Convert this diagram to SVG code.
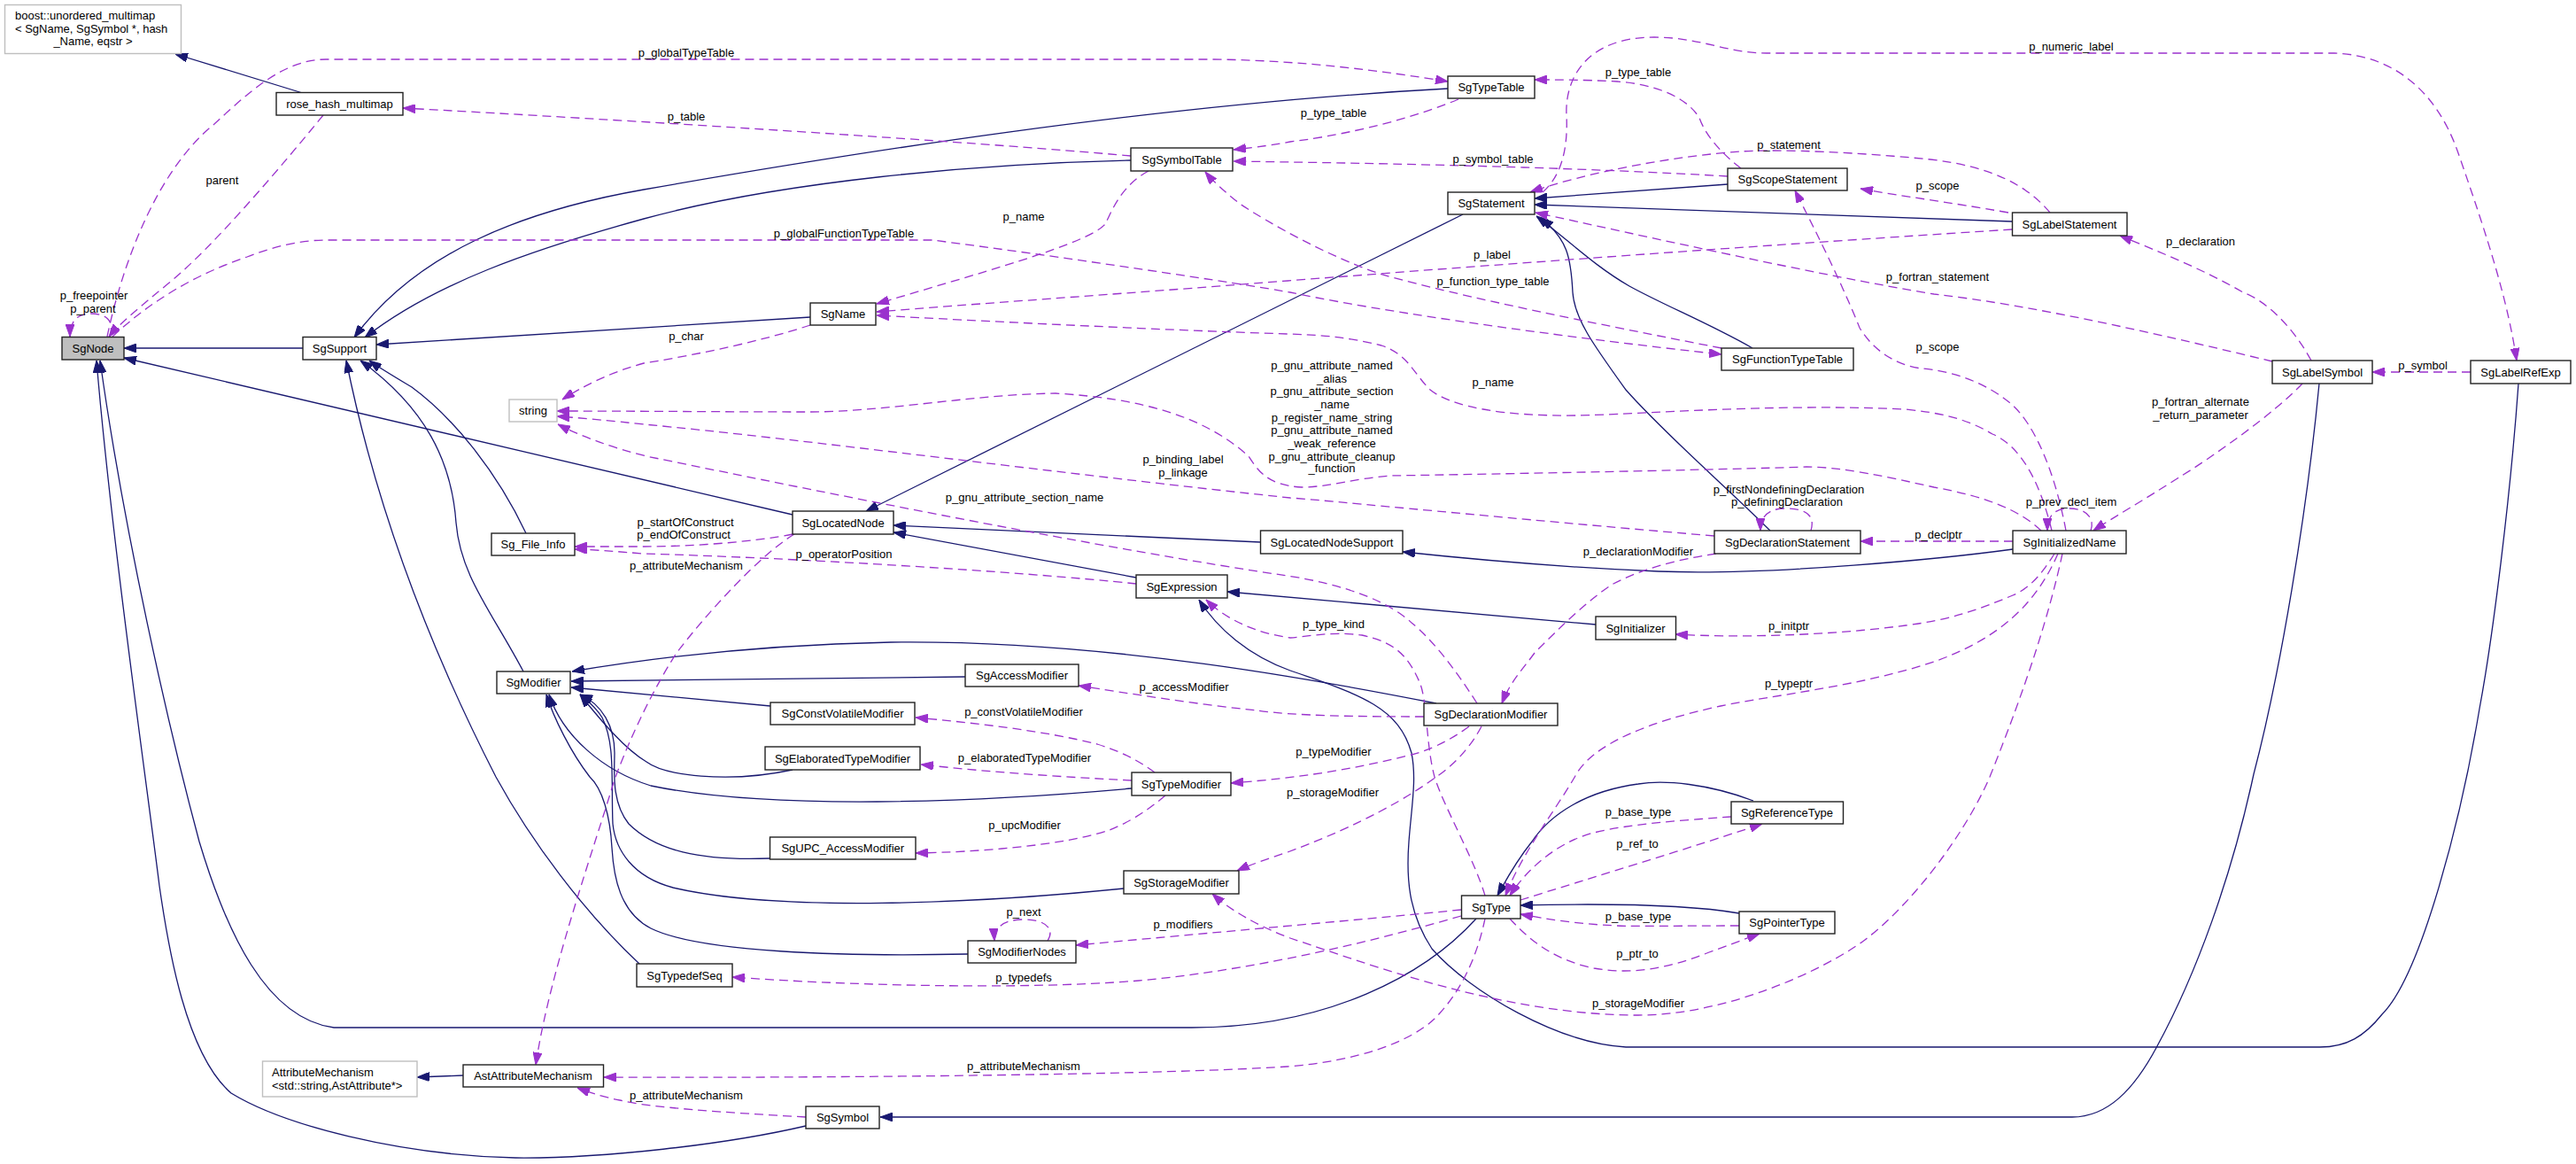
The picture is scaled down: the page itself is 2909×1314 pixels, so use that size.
<svg xmlns="http://www.w3.org/2000/svg" width="2909" height="1314" viewBox="0 0 2909 1314">
<style>
text{font-family:"Liberation Sans",Arial,Helvetica,sans-serif;font-size:13px;fill:#000}
.n rect{fill:#fff;stroke:#222;stroke-width:1.4}
.n.gr rect{stroke:#bfbfbf}
.n.me rect{fill:#bfbfbf}
.n text{text-anchor:middle}
.i{fill:none;stroke:#191970;stroke-width:1.3;marker-end:url(#ab)}
.u{fill:none;stroke:#9a32cd;stroke-width:1.3;stroke-dasharray:10,6;marker-end:url(#ap)}
.lb text{text-anchor:middle}
</style>
<defs>
<marker id="ab" viewBox="0 0 14 10" refX="14" refY="5" markerWidth="14" markerHeight="10" markerUnits="userSpaceOnUse" orient="auto"><path d="M0,0 L14,5 L0,10 z" fill="#191970" stroke="#191970" stroke-width="1" stroke-dasharray="none"/></marker>
<marker id="ap" viewBox="0 0 14 10" refX="14" refY="5" markerWidth="14" markerHeight="10" markerUnits="userSpaceOnUse" orient="auto"><path d="M0,0 L14,5 L0,10 z" fill="#9a32cd" stroke="#9a32cd" stroke-width="1" stroke-dasharray="none"/></marker>
</defs>
<rect x="0" y="0" width="2909" height="1314" fill="#fff"/>
<g id="connectors">
<!-- inheritance -->
<path class="i" d="M342,393 L140,393"/>
<path class="i" d="M340,104.5 L198,61"/>
<path class="i" d="M523,1214 L471,1216"/>
<path class="i" d="M895,581 L140,404"/>
<path class="i" d="M910,1271 C820,1292 680,1308 582,1307 C450,1304 320,1270 261,1234 C210,1190 190,1070 180,1000 C165,880 125,600 109,407"/>
<path class="i" d="M1667,1037 C1610,1100 1500,1160 1346,1160 L377,1160 C300,1150 255,1050 225,950 C190,820 140,600 113,407"/>
<path class="i" d="M1635,100 C1300,118 950,175 727,214 C590,238 470,285 400,381"/>
<path class="i" d="M1277,181 C1100,185 880,205 727,247 C600,282 490,320 412,381"/>
<path class="i" d="M915,358 L425,389"/>
<path class="i" d="M722,1088 C660,1030 600,950 560,877 C500,760 430,600 391,407"/>
<path class="i" d="M591,758 C555,690 520,650 515,590 C510,520 480,460 407,407"/>
<path class="i" d="M594,602 C560,530 510,470 465,437 C445,425 428,415 417,407"/>
<path class="i" d="M1652,242 L978,577"/>
<path class="i" d="M1423,612 L1009,593"/>
<path class="i" d="M1283,652 L1009,601"/>
<path class="i" d="M1951,208 L1733,224"/>
<path class="i" d="M2272,250 L1733,231"/>
<path class="i" d="M1979,393 C1930,365 1880,345 1840,323 C1800,300 1770,270 1735,244"/>
<path class="i" d="M1999,599 C1950,550 1880,490 1836,440 C1800,390 1778,360 1776,330 C1774,290 1770,270 1740,246"/>
<path class="i" d="M2273,620 C2200,630 2000,650 1873,645 C1750,640 1650,630 1584,623"/>
<path class="i" d="M1802,705 L1386,668"/>
<path class="i" d="M2844,433 C2835,560 2815,720 2800,800 C2780,920 2735,1100 2690,1145 C2670,1170 2650,1182 2620,1182 L1836,1182 C1760,1178 1660,1120 1617,1071 C1590,1030 1588,990 1591,950 C1594,910 1600,880 1594,850 C1580,800 1540,785 1457,757 C1410,740 1375,710 1354,677"/>
<path class="i" d="M1622,794 C1500,770 1250,722 1006,725 C860,728 740,742 646,758"/>
<path class="i" d="M1090,764 L645,769"/>
<path class="i" d="M870,797 L645,776"/>
<path class="i" d="M895,869 C820,885 750,875 730,860 C705,845 680,815 655,784"/>
<path class="i" d="M1278,890 C1100,906 870,915 735,887 C680,870 635,830 620,784"/>
<path class="i" d="M869,969 C790,972 740,960 710,930 C690,905 694,870 694,850 C694,820 680,795 655,784"/>
<path class="i" d="M1269,1003 C1100,1020 880,1030 760,1002 C715,990 695,960 692,930 C690,880 695,840 680,810 C672,797 662,790 655,784"/>
<path class="i" d="M1093,1077 C950,1080 790,1075 735,1048 C700,1030 693,990 691,957 C689,920 680,890 666,877 C645,850 625,810 617,784"/>
<path class="i" d="M2619,433 C2605,580 2575,760 2545,874 C2520,990 2480,1100 2436,1181 C2410,1230 2380,1261 2340,1261 L994,1261"/>
<path class="i" d="M1980,904 C1930,885 1880,880 1850,885 C1790,893 1750,920 1730,950 C1710,975 1700,995 1691,1011"/>
<path class="i" d="M1964,1031 C1900,1020 1800,1020 1717,1022"/>
<!-- usage -->
<path class="u" d="M124,380 C130,360 118,354 102,354 C88,354 79,362 79,380"/>
<path class="u" d="M365,130 C320,185 240,280 190,320 C160,345 135,365 123,380"/>
<path class="u" d="M121,380 C140,290 180,190 242,140 C280,105 320,67 368,67 L1370,67 C1470,68 1560,80 1635,92"/>
<path class="u" d="M127,380 C170,340 220,310 279,290 C310,278 340,271 368,271 L1053,271 C1200,290 1400,320 1457,330 C1600,360 1850,390 1944,400"/>
<path class="u" d="M1277,176 C1100,160 700,135 455,122"/>
<path class="u" d="M1647,112 C1580,140 1500,155 1457,160 C1430,165 1410,167 1393,169"/>
<path class="u" d="M1966,190 C1940,170 1925,150 1919,133 C1905,110 1870,95 1826,92 C1790,90 1760,90 1733,90"/>
<path class="u" d="M1951,199 C1800,190 1600,185 1457,183 L1393,182"/>
<path class="u" d="M1297,193 C1265,210 1255,240 1248,253 C1230,275 1100,310 990,343"/>
<path class="u" d="M1944,393 C1800,365 1650,335 1561,310 C1500,290 1430,250 1400,230 C1385,218 1370,205 1361,194"/>
<path class="u" d="M2315,240 C2290,210 2250,188 2180,180 C2100,172 2010,168 1966,171 C1890,176 1790,195 1728,217"/>
<path class="u" d="M1742,217 C1762,200 1771,170 1769,130 C1767,90 1790,42 1868,42 C1920,42 1950,60 1995,60 L2636,60 C2700,62 2750,100 2775,170 C2810,270 2832,340 2842,407"/>
<path class="u" d="M2268,240 C2200,228 2150,222 2101,213"/>
<path class="u" d="M2272,259 C2100,270 1800,290 1454,317 C1250,333 1100,343 990,352"/>
<path class="u" d="M2566,408 C2450,380 2300,345 2184,332 C2050,310 1850,265 1734,240"/>
<path class="u" d="M2610,407 C2590,370 2560,340 2533,330 C2490,305 2440,285 2394,266"/>
<path class="u" d="M2790,420 L2679,420"/>
<path class="u" d="M2600,433 C2570,465 2500,515 2459,540 C2420,565 2385,585 2364,599"/>
<path class="u" d="M2333,599 C2322,540 2300,480 2270,455 C2240,430 2200,418 2170,416 C2140,412 2115,395 2100,370 C2080,320 2050,260 2027,215"/>
<path class="u" d="M2361,599 C2366,585 2356,574 2337,574 C2320,574 2312,582 2312,599"/>
<path class="u" d="M2273,611 L2101,611"/>
<path class="u" d="M2045,599 C2050,582 2040,574 2016,574 C1998,574 1988,582 1988,599"/>
<path class="u" d="M2317,599 C2305,550 2285,505 2250,490 C2220,472 2190,466 2152,462 C2000,455 1850,468 1780,469 C1700,470 1640,460 1615,440 C1595,420 1590,400 1560,390 C1520,380 1490,378 1454,377 C1300,372 1100,362 990,356"/>
<path class="u" d="M2305,599 C2280,575 2240,560 2184,550 C2130,538 2080,527 2040,527 C1950,530 1700,535 1570,537 C1530,540 1500,550 1470,550 C1430,548 1420,530 1410,515 C1360,470 1290,450 1192,444 C1100,445 1000,465 913,465 C820,465 720,464 629,464"/>
<path class="u" d="M1936,605 C1700,585 1500,565 1457,562 C1200,535 900,495 727,479 C690,475 660,472 629,470"/>
<path class="u" d="M1668,794 C1640,750 1615,720 1594,703 C1570,680 1520,660 1454,650 C1250,620 950,560 730,515 C690,505 655,492 630,479"/>
<path class="u" d="M895,603 C850,612 780,617 727,617 L649,617"/>
<path class="u" d="M1283,659 C1150,645 900,630 727,625 C700,623 680,621 649,620"/>
<path class="u" d="M897,603 C860,625 800,690 764,737 C730,790 705,850 694,880 C670,960 620,1100 605,1202"/>
<path class="u" d="M1677,1037 C1668,1080 1650,1120 1620,1150 C1590,1178 1530,1198 1454,1204 C1300,1214 900,1217 682,1216"/>
<path class="u" d="M910,1261 C820,1256 730,1250 700,1242 C680,1238 665,1233 652,1228"/>
<path class="u" d="M1608,809 C1530,809 1460,808 1420,802 C1350,795 1270,782 1218,774"/>
<path class="u" d="M1304,872 C1285,858 1265,848 1239,840 C1180,825 1100,816 1034,810"/>
<path class="u" d="M1278,881 C1200,877 1120,872 1040,863"/>
<path class="u" d="M1659,820 C1635,838 1610,848 1594,852 C1530,868 1470,878 1390,884"/>
<path class="u" d="M1316,898 C1290,920 1270,930 1253,937 C1200,955 1100,962 1034,963"/>
<path class="u" d="M1673,820 C1660,845 1640,865 1622,877 C1590,900 1540,930 1454,962 C1430,970 1410,977 1397,983"/>
<path class="u" d="M1677,1011 C1665,970 1630,910 1620,877 C1610,840 1612,790 1603,770 C1590,740 1575,725 1538,717 C1500,712 1470,720 1457,720 C1420,715 1385,700 1362,677"/>
<path class="u" d="M1650,1027 C1550,1037 1400,1050 1215,1067"/>
<path class="u" d="M1650,1034 C1560,1060 1420,1095 1286,1107 C1150,1118 950,1112 827,1103"/>
<path class="u" d="M1183,1062 C1192,1048 1180,1038 1156,1038 C1135,1038 1122,1046 1123,1062"/>
<path class="u" d="M1955,922 C1900,926 1840,930 1800,940 C1760,950 1725,980 1705,1011"/>
<path class="u" d="M1717,1016 C1800,990 1900,960 1990,930"/>
<path class="u" d="M1964,1045 C1900,1045 1850,1046 1826,1045 C1780,1043 1750,1038 1717,1032"/>
<path class="u" d="M1705,1037 C1730,1065 1760,1085 1800,1093 C1840,1100 1880,1095 1930,1075 C1950,1068 1970,1060 1987,1054"/>
<path class="u" d="M2329,625 C2315,690 2290,770 2247,877 C2220,940 2160,1020 2106,1061 C2060,1095 1950,1146 1850,1146 C1700,1146 1550,1090 1457,1059 C1420,1045 1390,1028 1369,1009"/>
<path class="u" d="M2324,625 C2300,680 2260,720 2184,747 C2100,775 2000,785 1943,797 C1860,815 1800,840 1780,874 C1760,910 1720,960 1700,1011"/>
<path class="u" d="M2320,625 C2305,650 2290,665 2273,672 C2230,690 2200,700 2152,706 C2060,718 1960,720 1892,716"/>
<path class="u" d="M1938,625 C1890,632 1850,644 1820,660 C1790,680 1760,710 1733,737 C1720,755 1705,770 1696,794"/>
<path class="u" d="M915,367 C860,385 790,400 727,410 C690,420 660,435 635,451"/>
<g class="lb">
<text x="106" y="337.5">p_freepointer</text>
<text x="105" y="352.5">p_parent</text>
<text x="251" y="207.5">parent</text>
<text x="775" y="63.5">p_globalTypeTable</text>
<text x="953" y="267.5">p_globalFunctionTypeTable</text>
<text x="775" y="135.5">p_table</text>
<text x="1506" y="131.5">p_type_table</text>
<text x="1850" y="85.5">p_type_table</text>
<text x="1686" y="183.5">p_symbol_table</text>
<text x="1156" y="248.5">p_name</text>
<text x="1686" y="321.5">p_function_type_table</text>
<text x="2020" y="167.5">p_statement</text>
<text x="2339" y="56.5">p_numeric_label</text>
<text x="2188" y="213.5">p_scope</text>
<text x="1685" y="291.5">p_label</text>
<text x="2188" y="316.5">p_fortran_statement</text>
<text x="2485" y="276.5">p_declaration</text>
<text x="2736" y="416.5">p_symbol</text>
<text x="2485" y="457.5">p_fortran_alternate</text>
<text x="2485" y="472.5">_return_parameter</text>
<text x="2188" y="395.5">p_scope</text>
<text x="2339" y="570.5">p_prev_decl_item</text>
<text x="2189" y="607.5">p_declptr</text>
<text x="2020" y="556.5">p_firstNondefiningDeclaration</text>
<text x="2018" y="570.5">p_definingDeclaration</text>
<text x="1686" y="435.5">p_name</text>
<text x="1504" y="416.5">p_gnu_attribute_named</text>
<text x="1504" y="431.5">_alias</text>
<text x="1504" y="445.5">p_gnu_attribute_section</text>
<text x="1504" y="460.5">_name</text>
<text x="1504" y="475.5">p_register_name_string</text>
<text x="1504" y="489.5">p_gnu_attribute_named</text>
<text x="1504" y="504.5">_weak_reference</text>
<text x="1504" y="519.5">p_gnu_attribute_cleanup</text>
<text x="1504" y="532.5">_function</text>
<text x="1336" y="522.5">p_binding_label</text>
<text x="1336" y="537.5">p_linkage</text>
<text x="1157" y="565.5">p_gnu_attribute_section_name</text>
<text x="774" y="593.5">p_startOfConstruct</text>
<text x="772" y="607.5">p_endOfConstruct</text>
<text x="953" y="629.5">p_operatorPosition</text>
<text x="775" y="642.5">p_attributeMechanism</text>
<text x="1156" y="1207.5">p_attributeMechanism</text>
<text x="775" y="1240.5">p_attributeMechanism</text>
<text x="1337" y="779.5">p_accessModifier</text>
<text x="1156" y="807.5">p_constVolatileModifier</text>
<text x="1157" y="859.5">p_elaboratedTypeModifier</text>
<text x="1506" y="853">p_typeModifier</text>
<text x="1157" y="936">p_upcModifier</text>
<text x="1505" y="899">p_storageModifier</text>
<text x="1506" y="708.5">p_type_kind</text>
<text x="1336" y="1047.5">p_modifiers</text>
<text x="1156" y="1107.5">p_typedefs</text>
<text x="1156" y="1033.5">p_next</text>
<text x="1850" y="921">p_base_type</text>
<text x="1849" y="957">p_ref_to</text>
<text x="1850" y="1039">p_base_type</text>
<text x="1849" y="1081">p_ptr_to</text>
<text x="1850" y="1136.5">p_storageModifier</text>
<text x="2020" y="775.5">p_typeptr</text>
<text x="2020" y="710.5">p_initptr</text>
<text x="1850" y="626.5">p_declarationModifier</text>
<text x="775" y="383.5">p_char</text>
</g>
</g>
<g id="boost_unordered_multimap" class="n gr"><rect x="5.5" y="5.5" width="199" height="55"/><text x="17" y="22" style="text-anchor:start">boost::unordered_multimap</text><text x="17" y="37" style="text-anchor:start">&lt; SgName, SgSymbol *, hash</text><text x="105" y="51">_Name, eqstr &gt;</text></g>
<g id="rose_hash_multimap" class="n"><rect x="312" y="104.5" width="143" height="25.5"/><text x="383.5" y="121.5">rose_hash_multimap</text></g>
<g id="SgNode" class="n me"><rect x="70" y="380.5" width="70" height="25.5"/><text x="105" y="398">SgNode</text></g>
<g id="SgSupport" class="n"><rect x="342" y="380.5" width="83" height="25.5"/><text x="383.5" y="398">SgSupport</text></g>
<g id="SgSymbolTable" class="n"><rect x="1277" y="167" width="115" height="26"/><text x="1334.5" y="184.5">SgSymbolTable</text></g>
<g id="SgName" class="n"><rect x="915" y="342" width="74" height="25"/><text x="952" y="359">SgName</text></g>
<g id="SgTypeTable" class="n"><rect x="1635" y="86" width="98" height="25"/><text x="1684" y="103">SgTypeTable</text></g>
<g id="SgStatement" class="n"><rect x="1635" y="217" width="98" height="25"/><text x="1684" y="234">SgStatement</text></g>
<g id="SgScopeStatement" class="n"><rect x="1951" y="190" width="135" height="25"/><text x="2018.5" y="207">SgScopeStatement</text></g>
<g id="SgFunctionTypeTable" class="n"><rect x="1944" y="393" width="149" height="25"/><text x="2018.5" y="410">SgFunctionTypeTable</text></g>
<g id="SgLabelStatement" class="n"><rect x="2272.5" y="240" width="129.5" height="26"/><text x="2337" y="257.5">SgLabelStatement</text></g>
<g id="SgLabelSymbol" class="n"><rect x="2566" y="407" width="113" height="26"/><text x="2622.5" y="424.5">SgLabelSymbol</text></g>
<g id="SgLabelRefExp" class="n"><rect x="2790" y="407" width="113" height="26"/><text x="2846.5" y="424.5">SgLabelRefExp</text></g>
<g id="string" class="n gr"><rect x="575" y="451" width="54" height="25"/><text x="602" y="468">string</text></g>
<g id="Sg_File_Info" class="n"><rect x="555" y="602" width="94" height="25"/><text x="602" y="619">Sg_File_Info</text></g>
<g id="SgModifier" class="n"><rect x="561" y="758" width="83" height="25"/><text x="602.5" y="775">SgModifier</text></g>
<g id="SgLocatedNode" class="n"><rect x="895" y="577" width="114" height="26"/><text x="952" y="594.5">SgLocatedNode</text></g>
<g id="SgExpression" class="n"><rect x="1283" y="649" width="103" height="26"/><text x="1334.5" y="666.5">SgExpression</text></g>
<g id="SgLocatedNodeSupport" class="n"><rect x="1423.5" y="599" width="160.5" height="26"/><text x="1504" y="616.5">SgLocatedNodeSupport</text></g>
<g id="SgAccessModifier" class="n"><rect x="1090" y="750" width="128" height="25"/><text x="1154" y="767">SgAccessModifier</text></g>
<g id="SgConstVolatileModifier" class="n"><rect x="870" y="793" width="163" height="25"/><text x="951.5" y="810">SgConstVolatileModifier</text></g>
<g id="SgElaboratedTypeModifier" class="n"><rect x="864" y="843" width="175" height="26"/><text x="951.5" y="860.5">SgElaboratedTypeModifier</text></g>
<g id="SgDeclarationStatement" class="n"><rect x="1936" y="599" width="165" height="26"/><text x="2018.5" y="616.5">SgDeclarationStatement</text></g>
<g id="SgInitializer" class="n"><rect x="1802" y="696" width="90.5" height="26"/><text x="1847" y="713.5">SgInitializer</text></g>
<g id="SgDeclarationModifier" class="n"><rect x="1608" y="794" width="151" height="25"/><text x="1683.5" y="811">SgDeclarationModifier</text></g>
<g id="SgInitializedName" class="n"><rect x="2273" y="599" width="128" height="26"/><text x="2337" y="616.5">SgInitializedName</text></g>
<g id="AttributeMechanism" class="n gr"><rect x="296.5" y="1198" width="174.5" height="40"/><text x="307" y="1215" style="text-anchor:start">AttributeMechanism</text><text x="307" y="1229.5" style="text-anchor:start">&lt;std::string,AstAttribute*&gt;</text></g>
<g id="AstAttributeMechanism" class="n"><rect x="523" y="1202" width="158.5" height="25"/><text x="602" y="1219">AstAttributeMechanism</text></g>
<g id="SgTypedefSeq" class="n"><rect x="719" y="1088" width="108" height="26"/><text x="773" y="1105.5">SgTypedefSeq</text></g>
<g id="SgTypeModifier" class="n"><rect x="1278" y="872" width="112" height="26"/><text x="1334" y="889.5">SgTypeModifier</text></g>
<g id="SgUPC_AccessModifier" class="n"><rect x="869.5" y="945" width="164.5" height="25"/><text x="951.75" y="962">SgUPC_AccessModifier</text></g>
<g id="SgStorageModifier" class="n"><rect x="1269" y="983" width="130" height="26"/><text x="1334" y="1000.5">SgStorageModifier</text></g>
<g id="SgModifierNodes" class="n"><rect x="1093" y="1062" width="122" height="25"/><text x="1154" y="1079">SgModifierNodes</text></g>
<g id="SgSymbol" class="n"><rect x="910" y="1249" width="83" height="25"/><text x="951.5" y="1266">SgSymbol</text></g>
<g id="SgType" class="n"><rect x="1650.5" y="1011" width="66.5" height="26"/><text x="1684" y="1028.5">SgType</text></g>
<g id="SgReferenceType" class="n"><rect x="1955" y="905" width="126.5" height="25"/><text x="2018" y="922">SgReferenceType</text></g>
<g id="SgPointerType" class="n"><rect x="1964" y="1029" width="108" height="25"/><text x="2018" y="1046">SgPointerType</text></g>
</svg>
